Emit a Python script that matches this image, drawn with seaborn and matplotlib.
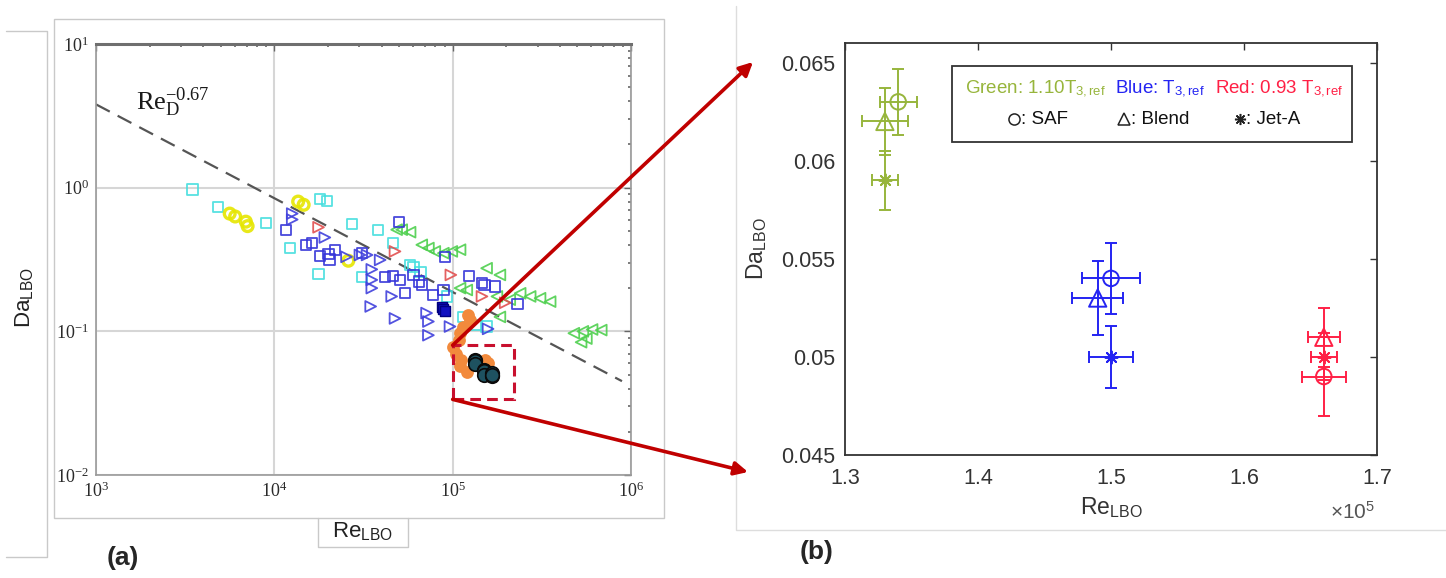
import numpy as np
import pandas as pd
import matplotlib
matplotlib.use("Agg")
import matplotlib.pyplot as plt
import seaborn as sns
from matplotlib.patches import Rectangle, ConnectionPatch
from matplotlib.lines import Line2D
from matplotlib.ticker import LogLocator, FuncFormatter, FixedLocator, NullFormatter

# ---------------- (a) LBO Damkohler vs Reynolds, literature data ----------------
cyan_sq_re = [3470, 4850, 8980, 18000, 19700, 27200, 12200, 17700, 38300, 46400,
              30900, 57500, 60300, 66100, 92700, 115000, 136000, 155000]
cyan_sq_da = [0.97, 0.73, 0.57, 0.83, 0.81, 0.56, 0.38, 0.25, 0.51, 0.41,
              0.24, 0.29, 0.28, 0.26, 0.175, 0.126, 0.111, 0.108]

yellow_re = [5620, 6030, 6920, 7080, 13600, 14600, 26000]
yellow_da = [0.66, 0.63, 0.58, 0.54, 0.80, 0.76, 0.31]

blue_sq_re = [11600, 15100, 16200, 18000, 20100, 21900, 20400, 30900, 41700, 46400,
              50700, 54100, 50100, 60300, 64600, 67100, 77600, 88700, 90600, 124000,
              146000, 151000, 173000, 231000]
blue_sq_da = [0.51, 0.40, 0.41, 0.335, 0.347, 0.37, 0.316, 0.35, 0.24, 0.243,
              0.228, 0.184, 0.58, 0.247, 0.222, 0.21, 0.179, 0.194, 0.331, 0.243,
              0.216, 0.21, 0.205, 0.155]
blue_fill_re = [87000, 88700, 90000]
blue_fill_da = [0.148, 0.143, 0.139]

blue_tri_re = [12600, 12600, 19200, 25400, 30200, 33100, 35200, 35200, 35200, 34700,
               39200, 45500, 47500, 71400, 73100, 73100, 96600, 158000]
blue_tri_da = [0.66, 0.60, 0.45, 0.33, 0.34, 0.34, 0.27, 0.228, 0.20, 0.149,
               0.314, 0.175, 0.123, 0.134, 0.117, 0.094, 0.108, 0.104]

red_tri_re = [17700, 47500, 97700, 146000, 197000]
red_tri_da = [0.53, 0.36, 0.247, 0.175, 0.158]

green_tri_re = [48500, 51800, 57700, 67100, 73100, 79400, 88700, 98900, 110000, 155000,
                184000, 110000, 120000, 177000, 209000, 239000, 272000, 309000, 352000,
                184000, 478000, 537000, 605000, 681000, 525000, 562000]
green_tri_da = [0.51, 0.51, 0.49, 0.40, 0.38, 0.36, 0.35, 0.36, 0.37, 0.275,
                0.247, 0.20, 0.194, 0.175, 0.166, 0.184, 0.175, 0.17, 0.161,
                0.126, 0.097, 0.10, 0.103, 0.102, 0.084, 0.089]

orange_re = [122000, 125000, 115000, 110000, 108000, 101000, 105000, 112000, 110000,
             120000, 152000, 158000]
orange_da = [0.130, 0.120, 0.108, 0.097, 0.087, 0.078, 0.070, 0.063, 0.057,
             0.0525, 0.063, 0.060]

# Re_D^-0.67 correlation line end points
fit_re = [1.0e3, 8.9e5]
fit_da = [3.8, 0.045]

# zoom window drawn on (a)
box_re = [1.0e5, 2.2e5]
box_da = [0.0336, 0.080]

# ---------------- (b) present measurements ----------------
fuels = ["SAF", "Blend", "Jet-A"]
temps = ["1.10T3", "T3", "0.93T3"]
re_lbo = {"1.10T3": [1.34e5, 1.33e5, 1.33e5],
          "T3": [1.50e5, 1.49e5, 1.50e5],
          "0.93T3": [1.66e5, 1.66e5, 1.66e5]}
da_lbo = {"1.10T3": [0.063, 0.062, 0.059],
          "T3": [0.054, 0.053, 0.050],
          "0.93T3": [0.049, 0.051, 0.050]}
re_err = {"1.10T3": [0.014e5, 0.017e5, 0.010e5],
          "T3": [0.022e5, 0.019e5, 0.0165e5],
          "0.93T3": [0.0167e5, 0.012e5, 0.0097e5]}
da_err = {"1.10T3": [0.0017, 0.0017, 0.0015],
          "T3": [0.0018, 0.0019, 0.0016],
          "0.93T3": [0.0020, 0.0015, 0.0012]}

temp_colors = {"1.10T3": "#97b53c", "T3": "#2424f2", "0.93T3": "#ff2045"}
fuel_markers = {"SAF": "o", "Blend": "^", "Jet-A": (8, 2, 0)}
fuel_sizes = {"SAF": 125, "Blend": 155, "Jet-A": 80}

rows = []
for t in temps:
    for i, f in enumerate(fuels):
        rows.append(dict(temp=t, fuel=f, re=re_lbo[t][i], da=da_lbo[t][i],
                         xerr=re_err[t][i], yerr=da_err[t][i]))
dfb = pd.DataFrame(rows)

# ---------------- style ----------------
sns.set_style("white")
plt.rcParams["font.family"] = ["Liberation Sans", "DejaVu Sans"]
plt.rcParams["mathtext.fontset"] = "custom"
plt.rcParams["mathtext.rm"] = "Liberation Serif"
plt.rcParams["mathtext.it"] = "Liberation Serif:italic"
plt.rcParams["mathtext.bf"] = "Liberation Serif:bold"
plt.rcParams["mathtext.sf"] = "Liberation Sans"

W, H = 1446, 578
fig = plt.figure(figsize=(W / 100, H / 100), dpi=100)
fig.patch.set_facecolor("white")

def frac(x0, y0, x1, y1):
    return [x0 / W, 1 - y1 / H, (x1 - x0) / W, (y1 - y0) / H]

ax1 = fig.add_axes(frac(96, 44, 631, 475))
ax2 = fig.add_axes(frac(845, 43, 1377, 455))
ov = fig.add_axes([0, 0, 1, 1], zorder=10)
ov.set_xlim(0, W)
ov.set_ylim(H, 0)
ov.axis("off")

# ---------------- panel (a) ----------------
ax1.set_xscale("log")
ax1.set_yscale("log")
ax1.set_xlim(1e3, 1e6)
ax1.set_ylim(1e-2, 1e1)
ax1.grid(True, which="major", color="#d6d6d6", lw=1.5)
ax1.set_axisbelow(True)

def open_pts(x, y, marker, color, s=55, lw=1.3, alpha=0.9):
    sns.scatterplot(x=x, y=y, ax=ax1, marker=marker, s=s, facecolor="none",
                    edgecolor=color, linewidth=lw, alpha=alpha, zorder=3)

open_pts(cyan_sq_re, cyan_sq_da, "s", "#45dede")
open_pts(yellow_re, yellow_da, "o", "#e6e600", s=60, lw=2.4)
open_pts(green_tri_re, green_tri_da, "<", "#4fd04f", s=60)
open_pts(blue_sq_re, blue_sq_da, "s", "#3535d8")
open_pts(blue_tri_re, blue_tri_da, ">", "#4040dc", s=60)
open_pts(red_tri_re, red_tri_da, ">", "#e25050", s=60)
sns.scatterplot(x=blue_fill_re, y=blue_fill_da, ax=ax1, marker="s", s=50,
                color="#1010c0", edgecolor="#000080", linewidth=1, zorder=4)
sns.scatterplot(x=orange_re, y=orange_da, ax=ax1, marker="o", s=85,
                color="#f28a3c", edgecolor="#f28a3c", linewidth=0, zorder=4)
sns.scatterplot(x=dfb["re"], y=dfb["da"], ax=ax1, marker="o", s=95,
                color="#1e5260", edgecolor="#0a0a0a", linewidth=1.2, zorder=5)
sns.lineplot(x=fit_re, y=fit_da, ax=ax1, color="#555555", lw=1.6,
             linestyle=(0, (7, 4)), zorder=2)
ax1.add_patch(Rectangle((box_re[0], box_da[0]), box_re[1] - box_re[0],
                        box_da[1] - box_da[0], fill=False, edgecolor="#c8102e",
                        lw=2.2, linestyle=(0, (3.5, 2)), zorder=6))

ax1.xaxis.set_major_locator(LogLocator(base=10, numticks=10))
ax1.yaxis.set_major_locator(LogLocator(base=10, numticks=10))
ax1.xaxis.set_minor_locator(LogLocator(base=10, subs=np.arange(2, 10), numticks=20))
ax1.yaxis.set_minor_locator(LogLocator(base=10, subs=np.arange(2, 10), numticks=20))
ax1.xaxis.set_minor_formatter(NullFormatter())
ax1.yaxis.set_minor_formatter(NullFormatter())
dec_fmt = FuncFormatter(lambda v, p: r"$\mathrm{10^{%d}}$" % int(round(np.log10(v))))
ax1.xaxis.set_major_formatter(dec_fmt)
ax1.yaxis.set_major_formatter(dec_fmt)
ax1.tick_params(which="both", direction="in", top=True, right=True,
                color="#666666", labelcolor="#2a2a2a", labelsize=13)
ax1.tick_params(which="major", length=5, width=1)
ax1.tick_params(which="minor", length=2.5, width=1.2)
ax1.tick_params(axis="x", pad=5)
ax1.tick_params(axis="y", pad=5)
for side, sp in ax1.spines.items():
    sp.set_color("#9a9a9a")
    sp.set_linewidth(1.2)
ax1.spines["top"].set_color("#6f6f6f")
ax1.spines["top"].set_linewidth(2.2)
ax1.set_xlabel("")
ax1.set_ylabel("")

# ---------------- panel (b) ----------------
for t in temps:
    sub = dfb[dfb["temp"] == t]
    c = temp_colors[t]
    ax2.errorbar(sub["re"], sub["da"], xerr=sub["xerr"], yerr=sub["yerr"],
                 fmt="none", ecolor=c, elinewidth=1.4, capsize=4.5, capthick=1.4,
                 zorder=3)
    for f in fuels:
        pt = sub[sub["fuel"] == f]
        if f == "Jet-A":
            # line-only marker: stroked with its own colour
            sns.scatterplot(x=pt["re"], y=pt["da"], ax=ax2, marker=fuel_markers[f],
                            s=fuel_sizes[f], color=c, linewidth=1.4, zorder=4)
        else:
            sns.scatterplot(x=pt["re"], y=pt["da"], ax=ax2, marker=fuel_markers[f],
                            s=fuel_sizes[f], facecolor="none", edgecolor=c,
                            linewidth=1.4, zorder=4)

ax2.set_xlim(1.3e5, 1.7e5)
ax2.set_ylim(0.045, 0.066)
ax2.xaxis.set_major_locator(FixedLocator([1.3e5, 1.4e5, 1.5e5, 1.6e5, 1.7e5]))
ax2.yaxis.set_major_locator(FixedLocator([0.045, 0.05, 0.055, 0.06, 0.065]))
ax2.xaxis.set_major_formatter(FuncFormatter(lambda v, p: "%g" % round(v / 1e5, 3)))
ax2.yaxis.set_major_formatter(FuncFormatter(lambda v, p: "%g" % round(v, 4)))
ax2.tick_params(direction="in", top=True, right=True, length=5, width=1,
                color="#333333", labelcolor="#333333", labelsize=15.5)
ax2.tick_params(axis="y", pad=7)
ax2.tick_params(axis="x", pad=9)
for sp in ax2.spines.values():
    sp.set_color("#333333")
    sp.set_linewidth(1.3)
ax2.set_xlabel("")
ax2.set_ylabel("")

# legend box of (b)
ax2.add_patch(Rectangle((0.201, 0.760), 0.752, 0.184, transform=ax2.transAxes,
                        fill=True, facecolor="white", edgecolor="#333333", lw=1.3,
                        zorder=6))
ly1, ly2 = 0.889, 0.815
ax2.text(0.2256, ly1, r"Green: 1.10T$_{\mathsf{3,ref}}$", color=temp_colors["1.10T3"],
         transform=ax2.transAxes, fontsize=13.5, va="center", ha="left", zorder=7)
ax2.text(0.5075, ly1, r"Blue: T$_{\mathsf{3,ref}}$", color=temp_colors["T3"],
         transform=ax2.transAxes, fontsize=13.5, va="center", ha="left", zorder=7)
ax2.text(0.6955, ly1, r"Red: 0.93 T$_{\mathsf{3,ref}}$", color=temp_colors["0.93T3"],
         transform=ax2.transAxes, fontsize=13.5, va="center", ha="left", zorder=7)
for xm, f, xt, lab in [(0.318, "SAF", 0.330, ": SAF"),
                       (0.524, "Blend", 0.537, ": Blend"),
                       (0.742, "Jet-A", 0.754, ": Jet-A")]:
    ax2.add_line(Line2D([xm], [ly2], transform=ax2.transAxes, marker=fuel_markers[f],
                        markersize=8, markerfacecolor="none", markeredgecolor="#222222",
                        markeredgewidth=1.1, linestyle="none", zorder=7))
    ax2.text(xt, ly2, lab, transform=ax2.transAxes, fontsize=13.5, color="#111111",
             va="center", ha="left", zorder=7)

# ---------------- figure furniture ----------------
gray = "#c9c9c9"
ov.add_patch(Rectangle((54, 19), 610, 499, fill=False, edgecolor=gray, lw=1))
ov.plot([6, 47, 47, 6], [31, 31, 557, 557], color=gray, lw=1)
ov.plot([318, 318, 408, 408], [518, 547, 547, 518], color=gray, lw=1)
ov.plot([736, 736, W], [6, 530, 530], color="#dddddd", lw=1)

ov.text(24, 298, r"Da$_{\mathsf{LBO}}$", rotation=90, fontsize=16, ha="center",
        va="center", color="#222222")
ov.text(362, 531, r"Re$_{\mathsf{LBO}}$", fontsize=16, ha="center", va="center",
        color="#222222")
ov.text(136, 110, r"$\mathrm{Re_{D}^{-0.67}}$", fontsize=19, ha="left",
        va="baseline", color="#1a1a1a")
ov.text(757, 249, r"Da$_{\mathsf{LBO}}$", rotation=90, fontsize=16.5, ha="center",
        va="center", color="#333333")
ov.text(1111, 508, r"Re$_{\mathsf{LBO}}$", fontsize=16.5, ha="center", va="center",
        color="#333333")
ov.text(1353, 512, r"$\mathsf{\times 10^{5}}$", fontsize=15, ha="center",
        va="center", color="#555555")
ov.text(123, 558, "(a)", fontsize=19, fontweight="bold", ha="center", va="center")
ov.text(817, 552, "(b)", fontsize=19, fontweight="bold", ha="center", va="center")

# zoom arrows from the dashed window to panel (b)
for yda, tip in [(box_da[1], (753, 62)), (box_da[0], (748, 472))]:
    con = ConnectionPatch(xyA=(box_re[0], yda), coordsA=ax1.transData,
                          xyB=tip, coordsB=ov.transData, arrowstyle="-|>",
                          mutation_scale=20, color="#c00000", lw=2.6, zorder=20)
    fig.add_artist(con)

fig.savefig("out.png", dpi=100, facecolor="white")
